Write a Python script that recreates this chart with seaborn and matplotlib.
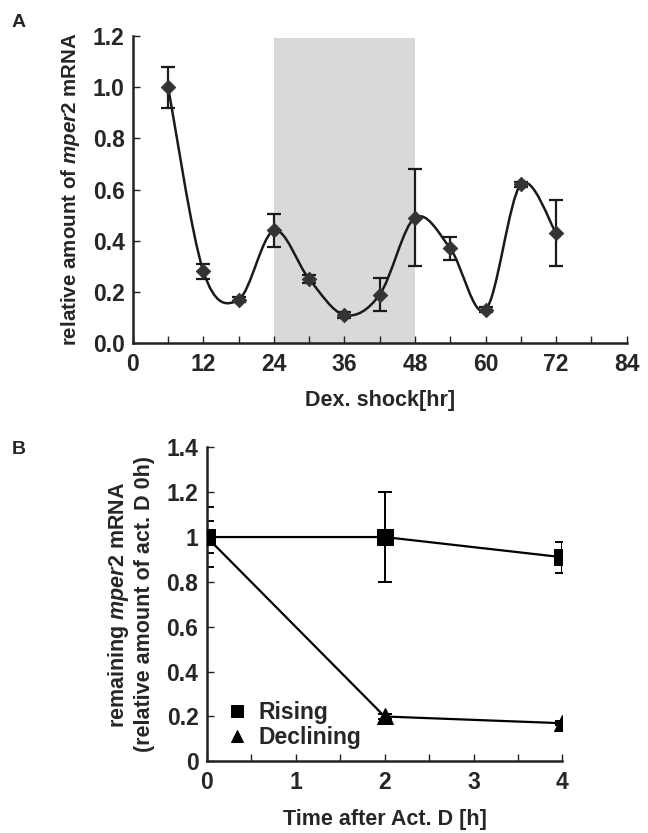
import numpy as np
import pandas as pd
import matplotlib
matplotlib.use("Agg")
import matplotlib.pyplot as plt
import seaborn as sns
from matplotlib.path import Path
from matplotlib.patches import PathPatch
from matplotlib.ticker import MultipleLocator, FuncFormatter

# Panel A: mper2 after Dex shock
dex_hours = [6, 12, 18, 24, 30, 36, 42, 48, 54, 60, 66, 72]
dex_mean = [1.00, 0.28, 0.17, 0.44, 0.25, 0.11, 0.19, 0.49, 0.37, 0.13, 0.62, 0.43]
dex_err = [0.08, 0.03, 0.01, 0.065, 0.015, 0.01, 0.065, 0.19, 0.045, 0.01, 0.01, 0.13]
shade_start, shade_end, shade_top = 24, 48, 1.19

# Panel B: Act. D chase
actd_hours = [0, 2, 4]
rising_mean = [1.0, 1.0, 0.91]
rising_err = [0.07, 0.2, 0.07]
declining_mean = [1.0, 0.2, 0.17]
declining_err = [0.135, 0.01, 0.01]

sns.set_style("ticks")
plt.rcParams['font.family'] = ['Liberation Sans', 'DejaVu Sans']
plt.rcParams['font.weight'] = 'bold'
plt.rcParams['mathtext.fontset'] = 'custom'
plt.rcParams['mathtext.it'] = 'Liberation Sans:italic:bold'
plt.rcParams['mathtext.rm'] = 'Liberation Sans:bold'

fig = plt.figure(figsize=(6.48, 8.33), dpi=100)
axA = fig.add_axes([0.205, 0.588, 0.762, 0.369])
axB = fig.add_axes([0.319, 0.086, 0.549, 0.377])


def smooth_path(xs, ys):
    # excel-style smoothed line as cubic bezier segments through the points
    pts = np.column_stack([xs, ys]).astype(float)
    verts = [pts[0]]
    codes = [Path.MOVETO]
    n = len(pts)
    for i in range(n - 1):
        p0 = pts[i - 1] if i > 0 else pts[i]
        p1 = pts[i]
        p2 = pts[i + 1]
        p3 = pts[i + 2] if i + 2 < n else pts[i + 1]
        c1 = p1 + (p2 - p0) / 6.0
        c2 = p2 - (p3 - p1) / 6.0
        verts += [c1, c2, p2]
        codes += [Path.CURVE4] * 3
    return Path(verts, codes)


def style_axes(ax):
    for side in ['top', 'right']:
        ax.spines[side].set_visible(False)
    for side in ['left', 'bottom']:
        ax.spines[side].set_linewidth(1.8)
        ax.spines[side].set_color('#222222')
    ax.tick_params(which='both', direction='in', width=1.0, color='#222222',
                   labelsize=16.5)
    ax.tick_params(axis='x', pad=7)
    ax.tick_params(axis='y', pad=6)
    ax.tick_params(which='major', length=5)
    ax.tick_params(which='minor', length=5)
    for lab in ax.get_xticklabels() + ax.get_yticklabels():
        lab.set_fontweight('bold')


# ---- Panel A ----
axA.axvspan(shade_start, shade_end, ymin=0, ymax=shade_top / 1.2,
            color='#d9d9d9', lw=0, zorder=0)
axA.add_patch(PathPatch(smooth_path(dex_hours, dex_mean), fill=False,
                        lw=1.8, edgecolor='#1a1a1a', zorder=2))
axA.errorbar(dex_hours, dex_mean, yerr=dex_err, fmt='none', ecolor='#1a1a1a',
             elinewidth=1.6, capsize=5, capthick=1.6, zorder=3)
sns.scatterplot(x=dex_hours, y=dex_mean, marker='D', s=55, color='#333333',
                edgecolor='#333333', ax=axA, zorder=4)
axA.set_xlim(0, 84)
axA.set_ylim(0, 1.2)
axA.xaxis.set_major_locator(MultipleLocator(12))
axA.xaxis.set_minor_locator(MultipleLocator(6))
axA.yaxis.set_major_locator(MultipleLocator(0.2))
axA.yaxis.set_major_formatter(FuncFormatter(lambda v, p: f"{v:.1f}"))
style_axes(axA)
axA.set_xlabel("Dex. shock[hr]", fontsize=15.5, fontweight='bold', labelpad=10)
axA.set_ylabel(r"relative amount of $\it{mper2}$ mRNA", fontsize=14.8,
               fontweight='bold', labelpad=8)

# ---- Panel B ----
df_b = pd.DataFrame({
    'hours': actd_hours * 2,
    'value': rising_mean + declining_mean,
    'group': ['Rising'] * 3 + ['Declining'] * 3,
})
axB.errorbar(actd_hours, rising_mean, yerr=rising_err, fmt='none', ecolor='black',
             elinewidth=1.4, capsize=5, capthick=1.4, zorder=2)
axB.errorbar(actd_hours, declining_mean, yerr=declining_err, fmt='none', ecolor='black',
             elinewidth=1.4, capsize=5, capthick=1.4, zorder=2)
sns.lineplot(data=df_b, x='hours', y='value', hue='group', style='group',
             markers={'Rising': 's', 'Declining': '^'}, dashes=False,
             palette={'Rising': 'black', 'Declining': 'black'},
             markersize=11, lw=1.6, markeredgecolor='black', ax=axB, zorder=3)
axB.set_xlim(0, 4)
axB.set_ylim(0, 1.4)
axB.xaxis.set_major_locator(MultipleLocator(1))
axB.xaxis.set_minor_locator(MultipleLocator(0.5))
axB.yaxis.set_major_locator(MultipleLocator(0.2))
axB.yaxis.set_major_formatter(FuncFormatter(lambda v, p: f"{v:g}"))
style_axes(axB)
axB.set_xlabel("Time after Act. D [h]", fontsize=15.5, fontweight='bold', labelpad=11)
axB.set_ylabel("remaining $\\it{mper2}$ mRNA\n(relative amount of act. D 0h)",
               fontsize=15.5, fontweight='bold', labelpad=8, linespacing=1.2)
leg = axB.legend(loc='lower left', bbox_to_anchor=(0.03, 0.01), frameon=False,
                 fontsize=16.5, handlelength=0.9, handletextpad=0.5,
                 labelspacing=0.1, borderaxespad=0, markerscale=0.85)
for line in leg.get_lines():
    line.set_linestyle('none')
for t in leg.get_texts():
    t.set_fontweight('bold')

fig.text(0.018, 0.968, "A", fontsize=14, fontweight='bold')
fig.text(0.018, 0.455, "B", fontsize=14, fontweight='bold')

fig.savefig("out.png", dpi=100)
